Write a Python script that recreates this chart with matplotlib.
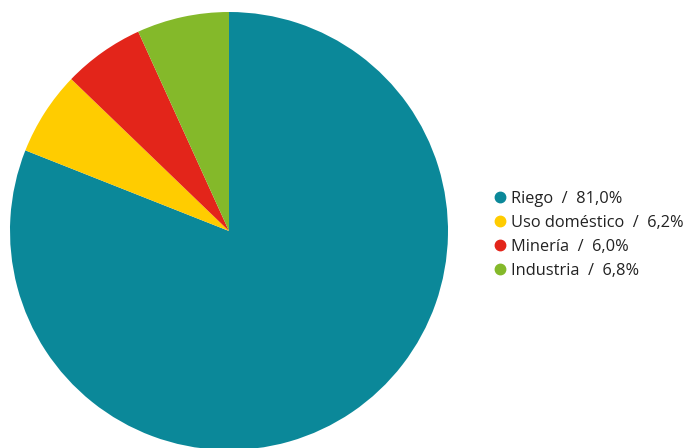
import matplotlib.pyplot as plt
from matplotlib.lines import Line2D

# data
labels = ['Riego', 'Uso doméstico', 'Minería', 'Industria']
values = [81.0, 6.2, 6.0, 6.8]
colors = ['#0b8899', '#ffcc00', '#e3251a', '#84b92a']

plt.rcParams['font.family'] = ['Open Sans', 'DejaVu Sans']

fig = plt.figure(figsize=(6.87, 4.48), dpi=100)
W, H = 687, 448
cx, cy, r = 229, 231, 219
ax = fig.add_axes([(cx - r) / W, (H - cy - r) / H, 2 * r / W, 2 * r / H])
ax.pie(values, colors=colors, startangle=90, counterclock=False, radius=1,
       wedgeprops=dict(linewidth=0))
ax.set_xlim(-1, 1)
ax.set_ylim(-1, 1)
ax.axis('off')

handles = [Line2D([], [], marker='o', linestyle='', markersize=7.5,
                  markerfacecolor=c, markeredgecolor=c) for c in colors]
legend_labels = [f'{l}  /  {v:.1f}%'.replace('.', ',') for l, v in zip(labels, values)]
fig.legend(handles, legend_labels, loc='upper left',
           bbox_to_anchor=(484 / W, (H - 184) / H), frameon=False,
           fontsize=11.8, handletextpad=0.05, labelspacing=0.49,
           handlelength=1.2, labelcolor='#222222', borderaxespad=0)

fig.savefig('out.png', dpi=100)
